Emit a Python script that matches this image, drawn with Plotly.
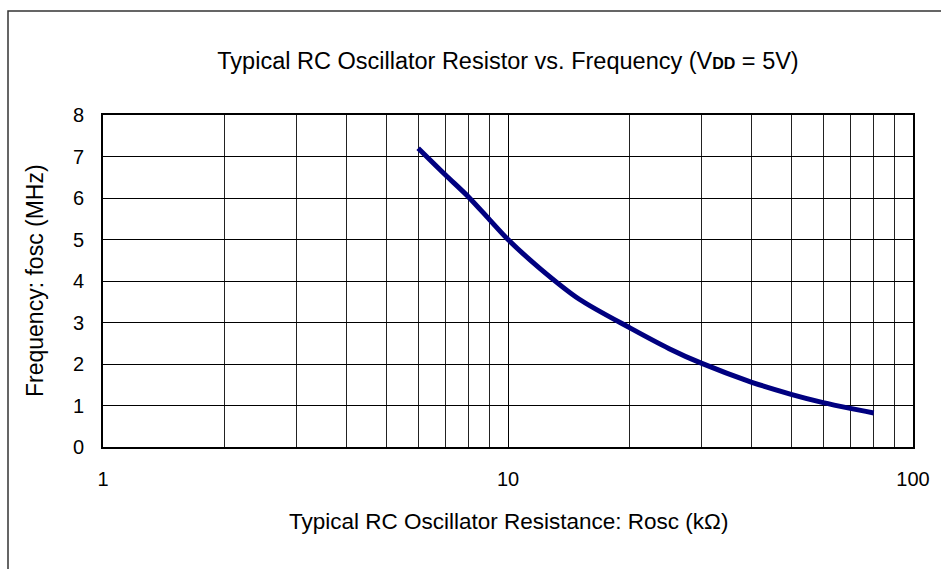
import plotly.graph_objects as go

# Oscillator resistance (kOhm) and resulting frequency (MHz), VDD = 5 V
rosc_kohm = [6, 7, 8, 9, 10, 12, 15, 20, 25, 30, 40, 50, 60, 70, 80]
fosc_mhz = [7.2, 6.56, 6.02, 5.48, 5.0, 4.3, 3.56, 2.87, 2.37, 2.02, 1.56, 1.27, 1.07, 0.93, 0.82]

x_major = [1, 10, 100]
x_major_text = ["1", "10", "100"]
x_minor = [2, 3, 4, 5, 6, 7, 8, 9, 20, 30, 40, 50, 60, 70, 80, 90]
y_ticks = [0, 1, 2, 3, 4, 5, 6, 7, 8]

FONT = "Liberation Sans, Arial, sans-serif"

fig = go.Figure(
    go.Scatter(
        x=rosc_kohm,
        y=fosc_mhz,
        mode="lines",
        line=dict(color="#000080", width=5, shape="spline", smoothing=0.8),
        hoverinfo="skip",
    )
)

fig.update_layout(
    width=941,
    height=569,
    margin=dict(l=103, r=28, t=115, b=122),
    paper_bgcolor="white",
    plot_bgcolor="white",
    showlegend=False,
    font=dict(family=FONT, size=20, color="black"),
    title=dict(
        text="Typical RC Oscillator Resistor vs. Frequency (V<b><span style='font-size:16px'>DD</span></b> = 5V)",
        x=0.5,
        xref="paper",
        xanchor="center",
        y=1 - 61 / 569,
        yref="container",
        yanchor="middle",
        font=dict(family=FONT, size=23.5, color="black"),
    ),
)

fig.update_xaxes(
    type="log",
    range=[0, 2],
    tickvals=x_major,
    ticktext=x_major_text,
    ticks="",
    ticklabelstandoff=13,
    tickfont=dict(size=20),
    showgrid=True,
    gridcolor="black",
    gridwidth=1,
    minor=dict(tickvals=x_minor, showgrid=True, gridcolor="#222222", gridwidth=1, ticks=""),
    showline=True,
    linecolor="black",
    linewidth=2,
    mirror=True,
    zeroline=False,
)

fig.update_yaxes(
    range=[0, 8],
    tickvals=y_ticks,
    ticks="",
    ticklabelstandoff=13,
    tickfont=dict(size=20),
    showgrid=True,
    gridcolor="black",
    gridwidth=1,
    showline=True,
    linecolor="black",
    linewidth=2,
    mirror=True,
    zeroline=False,
)

# Axis titles
fig.add_annotation(
    text="Typical RC Oscillator Resistance: Rosc (kΩ)",
    xref="paper", yref="paper",
    x=0.5, y=(447 - 521) / 332,
    xanchor="center", yanchor="middle",
    showarrow=False,
    font=dict(family=FONT, size=22.5, color="black"),
)
fig.add_annotation(
    text="Frequency: fosc (MHz)",
    xref="paper", yref="paper",
    x=(35 - 103) / 810, y=0.5,
    xanchor="center", yanchor="middle",
    textangle=-90,
    showarrow=False,
    font=dict(family=FONT, size=23, color="black"),
)

# Outer frame around the chart
fig.add_shape(
    type="rect",
    xref="paper", yref="paper",
    x0=(8 - 103) / 810, x1=1.2,
    y0=-0.5, y1=(447 - 11) / 332,
    line=dict(color="#333333", width=1.5),
    fillcolor="rgba(0,0,0,0)",
    layer="below",
)

fig.write_html("out.html")
